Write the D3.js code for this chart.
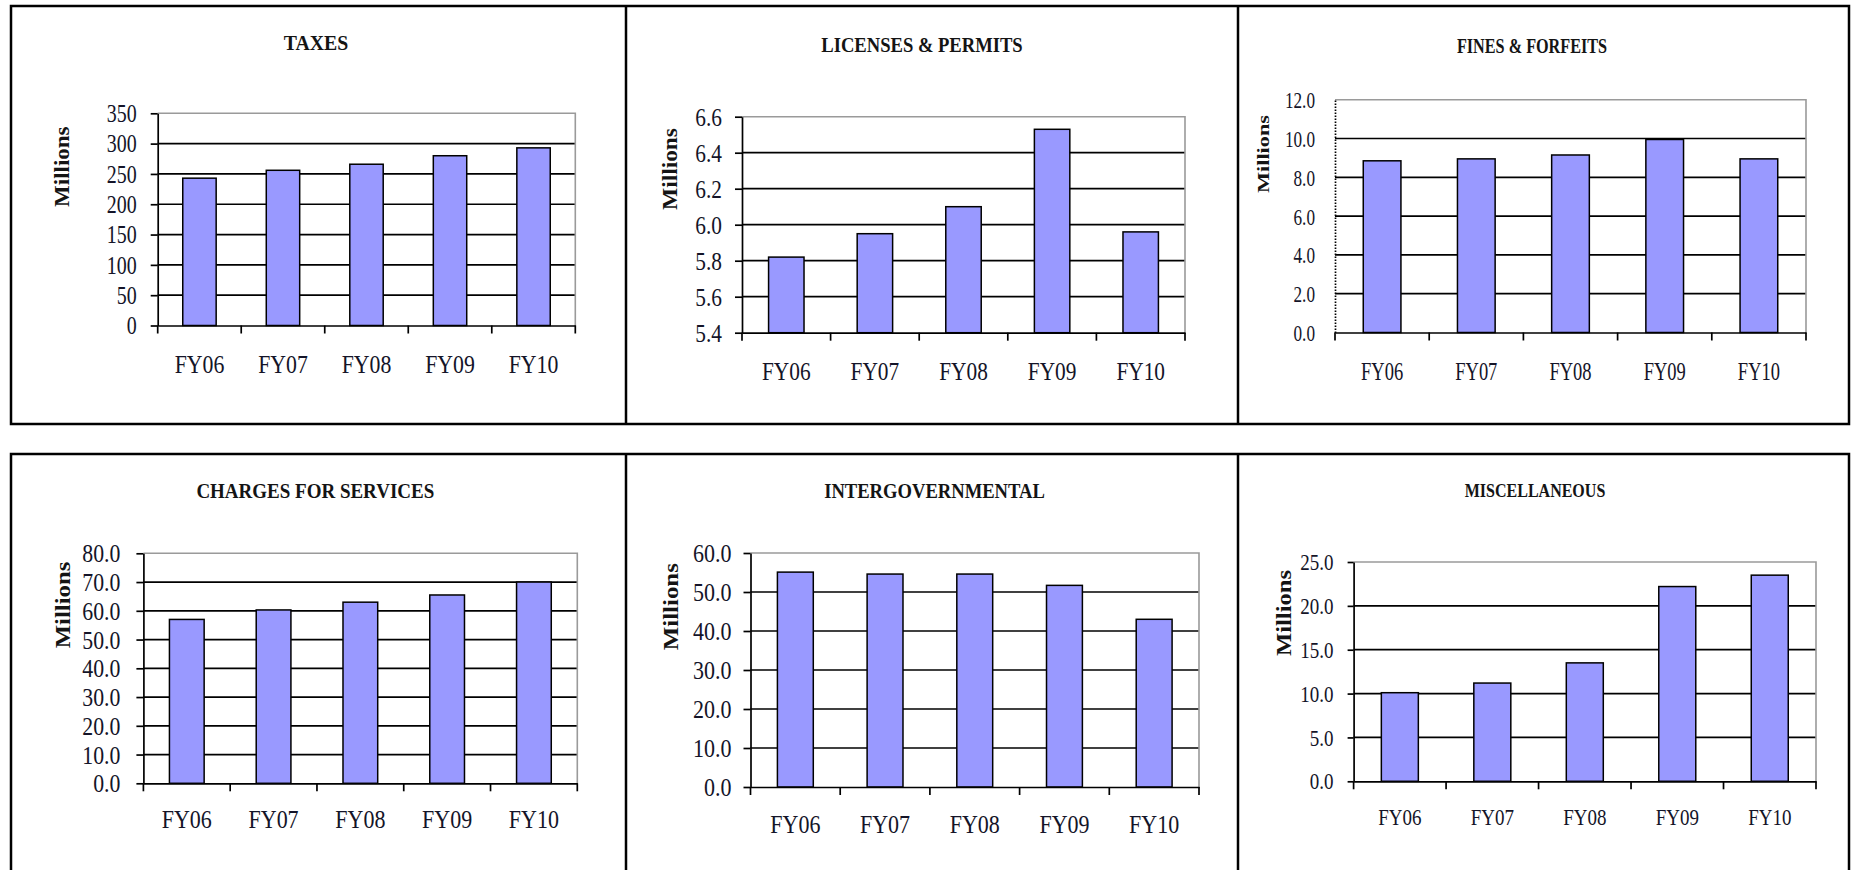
<!DOCTYPE html>
<html>
<head>
<meta charset="utf-8">
<script src="https://cdn.jsdelivr.net/npm/d3@7"></script>
<style>
  html, body { margin: 0; padding: 0; background: #fff; }
  svg { display: block; }
</style>
</head>
<body>
<svg id="chart" width="1851" height="870"></svg>
<script>
// ---- Revenue by source, FY06–FY10 (millions) ----
const categories = ["FY06", "FY07", "FY08", "FY09", "FY10"];

const taxesValues      = [243, 256, 266, 280, 293];
const taxesTicks       = [0, 50, 100, 150, 200, 250, 300, 350];

const licensesValues   = [5.82, 5.95, 6.10, 6.53, 5.96];
const licensesTicks    = [5.4, 5.6, 5.8, 6.0, 6.2, 6.4, 6.6];

const finesValues      = [8.85, 8.95, 9.15, 9.95, 8.95];
const finesTicks       = [0, 2, 4, 6, 8, 10, 12];

const chargesValues    = [57.0, 60.3, 63.0, 65.5, 70.0];
const chargesTicks     = [0, 10, 20, 30, 40, 50, 60, 70, 80];

const intergovValues   = [55.1, 54.6, 54.6, 51.7, 43.0];
const intergovTicks    = [0, 10, 20, 30, 40, 50, 60];

const miscValues       = [10.1, 11.2, 13.5, 22.2, 23.5];
const miscTicks        = [0, 5, 10, 15, 20, 25];

const panelTitles = ["TAXES", "LICENSES & PERMITS", "FINES & FORFEITS",
                     "CHARGES FOR SERVICES", "INTERGOVERNMENTAL", "MISCELLANEOUS"];
const axisTitle = "Millions";

const SERIF = "'Liberation Serif', 'Times New Roman', serif";
const TEXT_SY = 1.15;   // vertical stretch of the axis lettering

// ---- layout of each panel (plot box, text placement, type sizes) ----
const panels = [
  { title: panelTitles[0], values: taxesValues, ticks: taxesTicks, fmt: d3.format("d"),
    plot: [157.7, 575.3, 113.3, 325.5], titleAt: [316, 50], titleSize: 20, titleHx: 0.99,
    yTitleAt: [62.3, 166.7], yTitleSize: 20, yTitleL: 1.15,
    tickSize: 21, tickHx: 0.95, tickLen: 7, tickPad: 14,
    labelSize: 22, labelHx: 0.99, labelBase: 373 },
  { title: panelTitles[1], values: licensesValues, ticks: licensesTicks, fmt: d3.format(".1f"),
    plot: [742, 1185, 116.7, 332.7], titleAt: [922, 51.5], titleSize: 20, titleHx: 0.93,
    yTitleAt: [670.6, 169], yTitleSize: 20, yTitleL: 1.17,
    tickSize: 22, tickHx: 0.97, tickLen: 7, tickPad: 13,
    labelSize: 22, labelHx: 0.97, labelBase: 380 },
  { title: panelTitles[2], values: finesValues, ticks: finesTicks, fmt: d3.format(".1f"),
    plot: [1335, 1806, 99.7, 332.5], titleAt: [1532, 53], titleSize: 20, titleHx: 0.81,
    yTitleAt: [1263, 154], yTitleSize: 17, yTitleL: 1.31,
    tickSize: 20, tickHx: 0.86, tickLen: 0, tickPad: 20, dottedAxis: true,
    labelSize: 21, labelHx: 0.88, labelBase: 380 },
  { title: panelTitles[3], values: chargesValues, ticks: chargesTicks, fmt: d3.format(".1f"),
    plot: [143.4, 577.3, 553.3, 783.3], titleAt: [315.3, 498], titleSize: 20, titleHx: 0.95,
    yTitleAt: [62.9, 605], yTitleSize: 21, yTitleL: 1.18,
    tickSize: 22, tickHx: 0.99, tickLen: 7, tickPad: 16,
    labelSize: 22, labelHx: 1.0, labelBase: 828 },
  { title: panelTitles[4], values: intergovValues, ticks: intergovTicks, fmt: d3.format(".1f"),
    plot: [750.5, 1199, 553, 787], titleAt: [934.5, 498], titleSize: 20, titleHx: 0.93,
    yTitleAt: [670.4, 606.7], yTitleSize: 22, yTitleL: 1.13,
    tickSize: 22, tickHx: 1.0, tickLen: 7, tickPad: 12,
    labelSize: 22, labelHx: 1.0, labelBase: 833 },
  { title: panelTitles[5], values: miscValues, ticks: miscTicks, fmt: d3.format(".1f"),
    plot: [1353.6, 1816, 562, 781.3], titleAt: [1535, 496.7], titleSize: 18, titleHx: 0.89,
    yTitleAt: [1284.7, 613], yTitleSize: 20, yTitleL: 1.23,
    tickSize: 20, tickHx: 0.95, tickLen: 6, tickPad: 14,
    labelSize: 20, labelHx: 0.95, labelBase: 825 }
];

const svg = d3.select("#chart").attr("font-family", SERIF);

// ---- table frame around the six charts ----
const frame = svg.append("g").attr("fill", "none").attr("stroke", "#000").attr("stroke-width", 2.5);
frame.append("rect").attr("x", 11).attr("y", 6).attr("width", 1838).attr("height", 418);
frame.append("rect").attr("x", 11).attr("y", 454).attr("width", 1838).attr("height", 520);
[626, 1238].forEach(x => {
  frame.append("line").attr("x1", x).attr("x2", x).attr("y1", 6).attr("y2", 424);
  frame.append("line").attr("x1", x).attr("x2", x).attr("y1", 454).attr("y2", 974);
});

// reshape a text element around its anchor point
function reshape(sel, hx, sy) {
  sel.each(function () {
    const t = d3.select(this);
    const x = +t.attr("x") || 0;
    const y = +t.attr("y") || 0;
    t.attr("x", 0).attr("y", 0)
      .attr("transform", `translate(${x},${y}) scale(${hx},${sy})`);
  });
}

panels.forEach(p => {
  const [x0, x1, y0, y1] = p.plot;
  const g = svg.append("g");

  const x = d3.scaleBand().domain(categories).range([x0, x1])
    .paddingInner(0.6).paddingOuter(0.3);
  const y = d3.scaleLinear().domain([p.ticks[0], p.ticks[p.ticks.length - 1]]).range([y1, y0]);

  // plot area background
  g.append("rect").attr("x", x0).attr("y", y0).attr("width", x1 - x0).attr("height", y1 - y0)
    .attr("fill", "#fff");

  // horizontal gridlines
  g.append("g").selectAll("line")
    .data(p.ticks.slice(1, -1))
    .join("line")
    .attr("x1", x0).attr("x2", x1)
    .attr("y1", d => y(d)).attr("y2", d => y(d))
    .attr("stroke", "#000").attr("stroke-width", 1.7);

  // plot-area border (top and right)
  g.append("path")
    .attr("d", `M${x0},${y(p.ticks[p.ticks.length - 1])}H${x1}V${y1}`)
    .attr("fill", "none").attr("stroke", "#9a9a9a").attr("stroke-width", 1.6);

  // bars
  g.append("g").selectAll("rect")
    .data(p.values)
    .join("rect")
    .attr("x", (d, i) => x(categories[i]))
    .attr("width", x.bandwidth())
    .attr("y", d => y(d))
    .attr("height", d => y(p.ticks[0]) - y(d))
    .attr("fill", "#9999ff")
    .attr("stroke", "#000").attr("stroke-width", 1.5);

  // value axis
  const yAxis = g.append("g").attr("transform", `translate(${x0},0)`)
    .call(d3.axisLeft(y).tickValues(p.ticks).tickFormat(p.fmt)
      .tickSizeInner(p.tickLen).tickSizeOuter(0).tickPadding(p.tickPad))
    .attr("font-family", SERIF);
  yAxis.select(".domain").attr("stroke", "#000").attr("stroke-width", 1.7)
    .attr("stroke-dasharray", p.dottedAxis ? "1.5,1.5" : null);
  yAxis.selectAll(".tick line").attr("stroke", "#000").attr("stroke-width", 1.7);
  yAxis.selectAll(".tick text")
    .attr("font-family", SERIF)
    .attr("font-size", p.tickSize).attr("fill", "#141428")
    .attr("dy", null).attr("dominant-baseline", "central")
    .call(reshape, p.tickHx, TEXT_SY);

  // category axis
  const xAxis = g.append("g").attr("transform", `translate(0,${y1})`)
    .call(d3.axisBottom(x).tickSize(0).tickSizeOuter(0))
    .attr("font-family", SERIF);
  xAxis.select(".domain").attr("stroke", "#000").attr("stroke-width", 1.7);
  xAxis.selectAll(".tick text")
    .attr("font-family", SERIF)
    .attr("font-size", p.labelSize).attr("fill", "#141428")
    .attr("y", p.labelBase - y1).attr("dy", null)
    .call(reshape, p.labelHx, TEXT_SY);

  // tick marks between categories
  const step = x.step();
  xAxis.append("g").selectAll("line")
    .data(d3.range(categories.length + 1))
    .join("line")
    .attr("x1", i => x.range()[0] + i * step)
    .attr("x2", i => x.range()[0] + i * step)
    .attr("y1", 0).attr("y2", 8)
    .attr("stroke", "#000").attr("stroke-width", 1.7);

  // chart title
  g.append("text")
    .attr("transform", `translate(${p.titleAt[0]},${p.titleAt[1]}) scale(${p.titleHx},1.1)`)
    .attr("text-anchor", "middle")
    .attr("font-family", SERIF)
    .attr("font-weight", "bold")
    .attr("font-size", p.titleSize)
    .attr("fill", "#141414")
    .text(p.title);

  // value axis title
  g.append("text")
    .attr("transform", `translate(${p.yTitleAt[0]},${p.yTitleAt[1]}) rotate(-90) scale(${p.yTitleL},1)`)
    .attr("text-anchor", "middle")
    .attr("dominant-baseline", "central")
    .attr("font-family", SERIF)
    .attr("font-weight", "bold")
    .attr("font-size", p.yTitleSize)
    .attr("fill", "#141414")
    .text(axisTitle);
});
</script>
</body>
</html>
